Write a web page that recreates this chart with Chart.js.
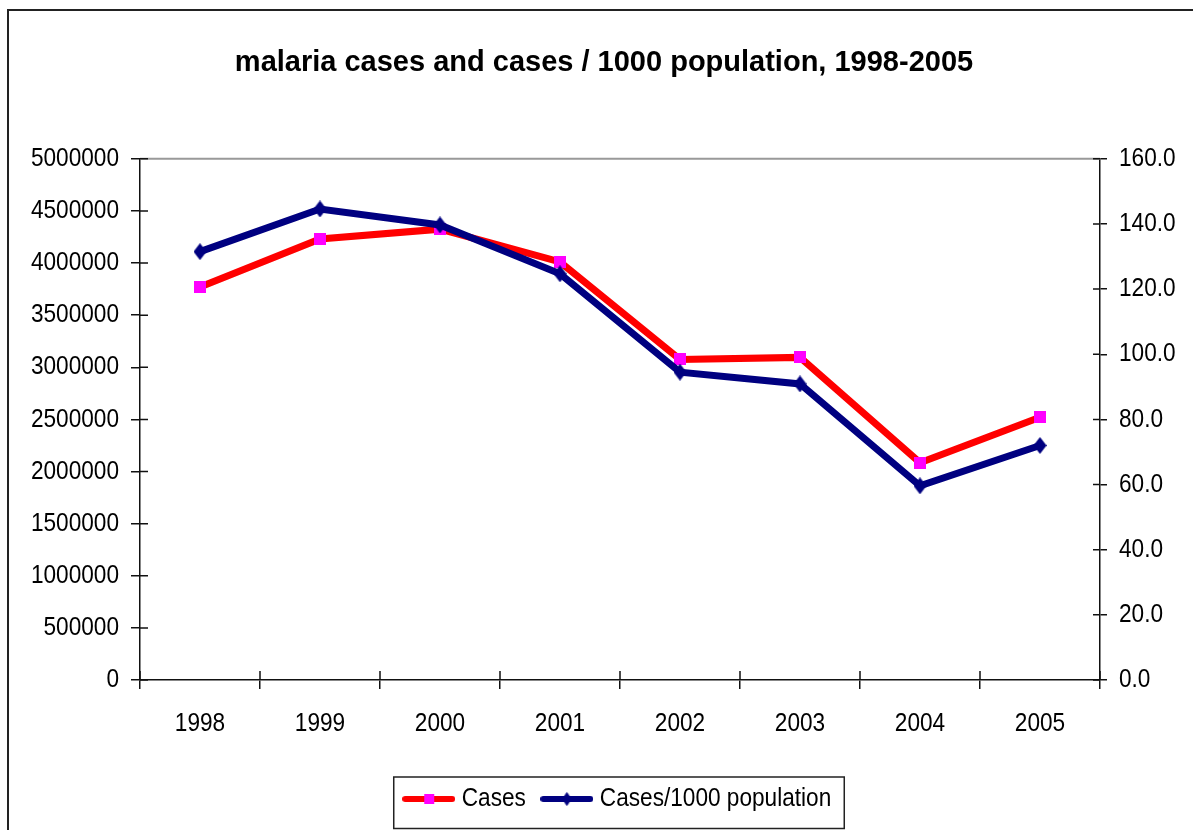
<!DOCTYPE html>
<html>
<head>
<meta charset="utf-8">
<title>malaria cases and cases / 1000 population</title>
<script src="https://cdn.jsdelivr.net/npm/chart.js@4/dist/chart.umd.min.js"></script>
<style>
  html, body { margin: 0; padding: 0; background: #fff; }
  #wrap { width: 1193px; height: 830px; }
</style>
</head>
<body>
<div id="wrap"><canvas id="malariaChart" width="1193" height="830"></canvas></div>
<script>
const years = ["1998", "1999", "2000", "2001", "2002", "2003", "2004", "2005"];
const cases = [3770000, 4230000, 4325000, 4010000, 3075000, 3095000, 2085000, 2520000];
const casesPer1000 = [131.5, 144.6, 139.7, 124.7, 94.5, 90.9, 59.6, 72.0];
const seriesNames = ["Cases", "Cases/1000 population"];

const FONT = "'Liberation Sans', Arial, sans-serif";
const SQUEEZE = 0.87; // the original labels are a narrow face

// marker pictures (used on the lines and in the legend)
function squareMark() {
  const c = document.createElement("canvas");
  c.width = 12; c.height = 12;
  const g = c.getContext("2d");
  g.fillStyle = "#ff00ff";
  g.fillRect(0, 0, 12, 12);
  return c;
}
function diamondMark() {
  const c = document.createElement("canvas");
  c.width = 13; c.height = 17;
  const g = c.getContext("2d");
  g.fillStyle = "#000080";
  g.beginPath();
  g.moveTo(6.5, 0); g.lineTo(13, 8.5); g.lineTo(6.5, 17); g.lineTo(0, 8.5);
  g.closePath(); g.fill();
  return c;
}
function legendSample(lineColor, mark) {
  const c = document.createElement("canvas");
  c.width = 53; c.height = 16;
  const g = c.getContext("2d");
  g.strokeStyle = lineColor; g.lineWidth = 6; g.lineCap = "round";
  g.beginPath(); g.moveTo(3, 8); g.lineTo(50, 8); g.stroke();
  const w = Math.round(mark.width * 0.8), h = Math.round(mark.height * 0.8);
  g.drawImage(mark, 26.5 - w / 2, 8 - h / 2, w, h);
  return c;
}
const marks = [squareMark(), diamondMark()];
const samples = [legendSample("#ff0000", marks[0]), legendSample("#000080", marks[1])];

// ticks that cross the axes, top border of the plot, outer frame, legend box
const decorations = {
  id: "decorations",
  beforeDatasetsDraw(chart) {
    const { ctx, chartArea: a, scales } = chart;
    ctx.save();
    ctx.strokeStyle = "#999";
    ctx.lineWidth = 2;
    ctx.beginPath(); ctx.moveTo(a.left, a.top); ctx.lineTo(a.right, a.top); ctx.stroke();
    ctx.strokeStyle = "#111";
    ctx.lineWidth = 1.5;
    ctx.beginPath();
    scales.y.ticks.forEach(t => {
      const py = scales.y.getPixelForValue(t.value);
      ctx.moveTo(a.left, py); ctx.lineTo(a.left + 8, py);
    });
    scales.y1.ticks.forEach(t => {
      const py = scales.y1.getPixelForValue(t.value);
      ctx.moveTo(a.right, py); ctx.lineTo(a.right - 7, py);
    });
    for (let i = 0; i <= years.length; i++) {
      const px = scales.x.getPixelForValue(i - 0.5);
      ctx.moveTo(px, a.bottom); ctx.lineTo(px, a.bottom - 9);
    }
    ctx.stroke();
    ctx.restore();
  },
  afterDraw(chart) {
    const { ctx } = chart;
    ctx.save();
    ctx.strokeStyle = "#222";
    ctx.lineWidth = 2;
    ctx.strokeRect(8, 10, 1300, 1000);
    const boxes = chart.legend.legendHitBoxes;
    if (boxes.length) {
      const first = boxes[0], last = boxes[boxes.length - 1];
      const left = first.left - 15, right = last.left + last.width + 13;
      const top = first.top - 9, bottom = Math.min(first.top + 43, 828.5);
      ctx.lineWidth = 1.5;
      ctx.strokeStyle = "#222";
      ctx.strokeRect(left, top, right - left, bottom - top);
    }
    ctx.restore();
  }
};

const ctx = document.getElementById("malariaChart").getContext("2d");

// narrow the regular (non bold) text around its anchor point
const rawFill = ctx.fillText.bind(ctx);
const rawMeasure = ctx.measureText.bind(ctx);
ctx.fillText = function (text, x, y, maxWidth) {
  if (/bold/.test(this.font)) return rawFill(text, x, y, maxWidth);
  this.save();
  this.translate(x, y);
  this.scale(SQUEEZE, 1);
  if (maxWidth === undefined) rawFill(text, 0, 0);
  else rawFill(text, 0, 0, maxWidth / SQUEEZE);
  this.restore();
};
ctx.measureText = function (text) {
  const m = rawMeasure(text);
  if (/bold/.test(this.font)) return m;
  return {
    width: m.width * SQUEEZE,
    actualBoundingBoxLeft: m.actualBoundingBoxLeft * SQUEEZE,
    actualBoundingBoxRight: m.actualBoundingBoxRight * SQUEEZE,
    actualBoundingBoxAscent: m.actualBoundingBoxAscent,
    actualBoundingBoxDescent: m.actualBoundingBoxDescent,
    fontBoundingBoxAscent: m.fontBoundingBoxAscent,
    fontBoundingBoxDescent: m.fontBoundingBoxDescent
  };
};

const malariaChart = new Chart(ctx, {
  type: "line",
  data: {
    labels: years,
    datasets: [
      {
        label: seriesNames[0],
        data: cases,
        yAxisID: "y",
        borderColor: "#ff0000",
        backgroundColor: "#ff00ff",
        borderWidth: 7,
        pointStyle: marks[0],
        tension: 0,
        order: 2
      },
      {
        label: seriesNames[1],
        data: casesPer1000,
        yAxisID: "y1",
        borderColor: "#000080",
        backgroundColor: "#000080",
        borderWidth: 7,
        pointStyle: marks[1],
        tension: 0,
        order: 1
      }
    ]
  },
  options: {
    responsive: false,
    devicePixelRatio: 1,
    animation: false,
    layout: { padding: { left: 20, right: 5, top: 10, bottom: 8 } },
    plugins: {
      title: {
        display: true,
        text: "malaria cases and cases / 1000 population, 1998-2005",
        color: "#000",
        font: { family: FONT, size: 29, weight: "bold" },
        padding: { top: 36, bottom: 78 }
      },
      legend: {
        position: "bottom",
        fullSize: false,
        labels: {
          color: "#000",
          font: { family: FONT, size: 26 },
          usePointStyle: true,
          pointStyleWidth: 40,
          padding: 21,
          generateLabels: (chart) => chart.data.datasets.map((ds, i) => ({
            text: ds.label,
            pointStyle: samples[i],
            fillStyle: ds.borderColor,
            strokeStyle: ds.borderColor,
            lineWidth: 0,
            hidden: false,
            datasetIndex: i
          }))
        }
      },
      tooltip: { enabled: false }
    },
    scales: {
      x: {
        offset: true,
        afterFit: (s) => { s.height = 85; },
        grid: { offset: true, drawOnChartArea: false, tickLength: 9, color: "#111", lineWidth: 1.5 },
        border: { color: "#111", width: 1.5 },
        ticks: { color: "#000", font: { family: FONT, size: 26 }, padding: 19, maxRotation: 0 }
      },
      y: {
        position: "left",
        min: 0,
        max: 5000000,
        afterFit: (s) => { s.width = 120; },
        grid: { drawOnChartArea: false, tickLength: 9, color: "#111", lineWidth: 1.5 },
        border: { color: "#111", width: 1.5 },
        ticks: { stepSize: 500000, color: "#000", font: { family: FONT, size: 26 }, padding: 12,
                 callback: (v) => String(v) }
      },
      y1: {
        position: "right",
        min: 0,
        max: 160,
        afterFit: (s) => { s.width = 88; },
        grid: { drawOnChartArea: false, tickLength: 7, color: "#111", lineWidth: 1.5 },
        border: { color: "#111", width: 1.5 },
        ticks: { stepSize: 20, color: "#000", font: { family: FONT, size: 26 }, padding: 12,
                 callback: (v) => v.toFixed(1) }
      }
    }
  },
  plugins: [decorations]
});
</script>
</body>
</html>
